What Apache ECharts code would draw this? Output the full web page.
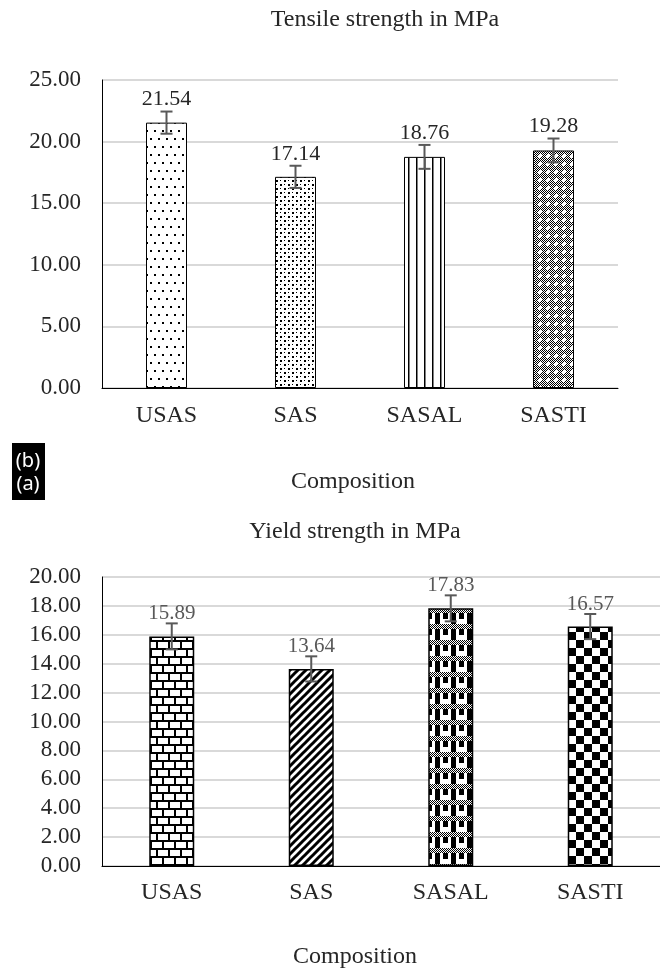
<!DOCTYPE html>
<html>
<head>
<meta charset="utf-8">
<script src="https://cdn.jsdelivr.net/npm/echarts@6/dist/echarts.min.js"></script>
<style>
  html, body { margin: 0; padding: 0; background: #fff; }
  #chart { width: 660px; height: 971px; }
</style>
</head>
<body>
<div id="chart"></div>
<script>
// data
const categories = ['USAS', 'SAS', 'SASAL', 'SASTI']
const tensile = [21.54, 17.14, 18.76, 19.28]
const tensileErr = [0.9, 0.9, 0.97, 0.97]
const yieldStr = [15.89, 13.64, 17.83, 16.57]
const yieldErr = [0.9, 0.87, 0.9, 0.87]

const FONT = '"Liberation Serif", "Times New Roman", serif'
const DARK = '#262626'
const GREY = '#595959'

// small tile canvases used as bar fills
function tile(w, h, draw) {
  const c = document.createElement('canvas')
  c.width = w
  c.height = h
  const ctx = c.getContext('2d')
  ctx.fillStyle = '#fff'
  ctx.fillRect(0, 0, w, h)
  ctx.fillStyle = '#000'
  ctx.strokeStyle = '#000'
  draw(ctx)
  return { image: c, repeat: 'repeat' }
}

const patSparseDots = tile(16, 16, (ctx) => {
  ctx.fillRect(2, 2, 2, 2)
  ctx.fillRect(10, 2, 2, 2)
  ctx.fillRect(6, 10, 2, 2)
  ctx.fillRect(14, 10, 2, 2)
})
const patDenseDots = tile(8, 8, (ctx) => {
  ctx.fillRect(0, 0, 2, 2)
  ctx.fillRect(4, 4, 2, 2)
  ctx.fillRect(4, 0, 1, 1)
  ctx.fillRect(0, 4, 1, 1)
})
const patVLines = tile(8, 8, (ctx) => {
  ctx.fillRect(0, 0, 1.5, 8)
})
const patSmallGrid = tile(8, 8, (ctx) => {
  for (let y = 0; y < 8; y++) {
    for (let x = 0; x < 8; x++) {
      if ((x + y) % 2 === 0) ctx.fillRect(x, y, 1, 1)
    }
  }
  ctx.fillStyle = '#fff'
  ctx.fillRect(3, 2, 2, 4)
  ctx.fillRect(2, 3, 4, 2)
})
const patBrick = tile(24, 16, (ctx) => {
  ctx.fillRect(0, 0, 24, 2)
  ctx.fillRect(0, 8, 24, 2)
  ctx.fillRect(0, 0, 2, 8)
  ctx.fillRect(12, 0, 2, 8)
  ctx.fillRect(6, 8, 2, 8)
  ctx.fillRect(18, 8, 2, 8)
})
const patDiagonal = tile(8, 8, (ctx) => {
  ctx.lineWidth = 3
  ctx.beginPath()
  ctx.moveTo(-2, 10); ctx.lineTo(10, -2)
  ctx.moveTo(-6, 6); ctx.lineTo(6, -6)
  ctx.moveTo(2, 14); ctx.lineTo(14, 2)
  ctx.stroke()
})
const patPlaid = tile(16, 16, (ctx) => {
  for (let y = 0; y < 5; y++) {
    for (let x = 0; x < 16; x++) {
      if ((x + y) % 2 === 0) ctx.fillRect(x, y, 1, 1)
    }
  }
  ctx.fillRect(3, 5, 5, 11)
  ctx.fillRect(11, 5, 5, 6)
})
const patChecker = tile(16, 16, (ctx) => {
  ctx.fillRect(0, 0, 8, 8)
  ctx.fillRect(8, 8, 8, 8)
})

const topFills = [patSparseDots, patDenseDots, patVLines, patSmallGrid]
const bottomFills = [patBrick, patDiagonal, patPlaid, patChecker]

function errorBars(labelColor, labelSize, labelGap) {
  return function (params, api) {
    const x = api.value(0)
    const v = api.value(1)
    const e = api.value(2)
    const hi = api.coord([x, v + e])
    const lo = api.coord([x, v - e])
    const cap = 6
    const st = { stroke: GREY, lineWidth: 2 }
    return {
      type: 'group',
      children: [
        { type: 'line', shape: { x1: hi[0], y1: hi[1], x2: lo[0], y2: lo[1] }, style: st },
        { type: 'line', shape: { x1: hi[0] - cap, y1: hi[1], x2: hi[0] + cap, y2: hi[1] }, style: st },
        { type: 'line', shape: { x1: lo[0] - cap, y1: lo[1], x2: lo[0] + cap, y2: lo[1] }, style: st },
        {
          type: 'text',
          x: hi[0],
          y: hi[1] - labelGap,
          style: {
            text: v.toFixed(2),
            align: 'center',
            verticalAlign: 'middle',
            font: labelSize + 'px ' + FONT,
            fill: labelColor,
          },
        },
      ],
    }
  }
}

function valueAxis(gridIndex, max, interval) {
  return {
    type: 'value',
    gridIndex,
    min: 0,
    max,
    interval,
    axisLine: { show: true, lineStyle: { color: '#000', width: 1 } },
    axisTick: { show: false },
    axisLabel: {
      margin: 21,
      color: DARK,
      fontFamily: FONT,
      fontSize: 23,
      formatter: (v) => v.toFixed(2),
    },
    splitLine: { lineStyle: { color: '#d9d9d9', width: 2 } },
  }
}

function categoryAxis(gridIndex, margin) {
  return {
    type: 'category',
    gridIndex,
    data: categories,
    axisLine: { lineStyle: { color: '#000', width: 1 } },
    axisTick: { show: false },
    axisLabel: { margin, color: DARK, fontFamily: FONT, fontSize: 24 },
  }
}

function textItem(x, y, text, size, fill) {
  return {
    type: 'text',
    x,
    y,
    style: { text, align: 'center', verticalAlign: 'middle', font: size + 'px ' + FONT, fill: fill || DARK },
  }
}

const chart = echarts.init(document.getElementById('chart'), null, { renderer: 'canvas' })

chart.setOption({
  backgroundColor: '#fff',
  animation: false,
  grid: [
    { left: 102, top: 80, width: 516, height: 308 },
    { left: 102, top: 577, width: 566, height: 289 },
  ],
  xAxis: [categoryAxis(0, 16), categoryAxis(1, 15)],
  yAxis: [valueAxis(0, 25, 5), valueAxis(1, 20, 2)],
  graphic: [
    textItem(385, 20, 'Tensile strength in MPa', 24),
    textItem(353, 482, 'Composition', 24),
    textItem(355, 532, 'Yield strength in MPa', 24),
    textItem(355, 957, 'Composition', 24),
    { type: 'rect', shape: { x: 12, y: 443, width: 33, height: 57 }, style: { fill: '#000' } },
    { type: 'text', x: 28, y: 461, style: { text: '(b)', align: 'center', verticalAlign: 'middle', font: '20px "Noto Sans", sans-serif', fill: '#fff' } },
    { type: 'text', x: 28, y: 484, style: { text: '(a)', align: 'center', verticalAlign: 'middle', font: '20px "Noto Sans", sans-serif', fill: '#fff' } },
  ],
  series: [
    {
      type: 'bar',
      xAxisIndex: 0,
      yAxisIndex: 0,
      barWidth: 41,
      data: tensile.map((v, i) => ({
        value: v,
        itemStyle: { color: topFills[i], borderColor: '#000', borderWidth: 1 },
      })),
    },
    {
      type: 'custom',
      xAxisIndex: 0,
      yAxisIndex: 0,
      z: 5,
      renderItem: errorBars(DARK, 22, 12),
      data: tensile.map((v, i) => [i, v, tensileErr[i]]),
    },
    {
      type: 'bar',
      xAxisIndex: 1,
      yAxisIndex: 1,
      barWidth: 45,
      data: yieldStr.map((v, i) => ({
        value: v,
        itemStyle: { color: bottomFills[i], borderColor: '#000', borderWidth: 1.5 },
      })),
    },
    {
      type: 'custom',
      xAxisIndex: 1,
      yAxisIndex: 1,
      z: 5,
      renderItem: errorBars(GREY, 21, 10),
      data: yieldStr.map((v, i) => [i, v, yieldErr[i]]),
    },
  ],
})
</script>
</body>
</html>
